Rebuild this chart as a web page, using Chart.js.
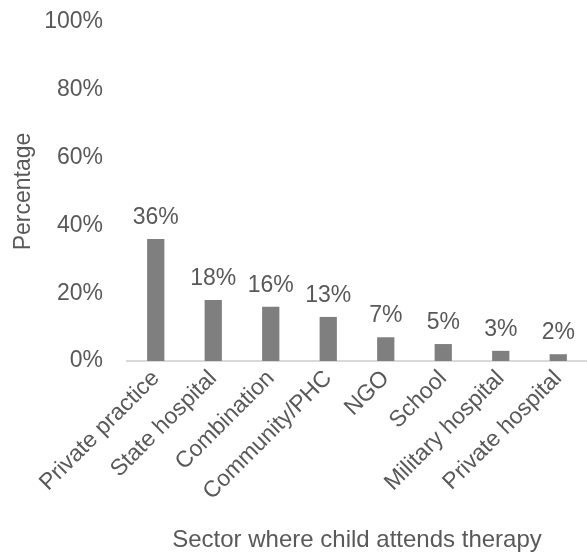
<!DOCTYPE html>
<html>
<head>
<meta charset="utf-8">
<script src="https://cdn.jsdelivr.net/npm/chart.js@4/dist/chart.umd.min.js"></script>
<style>
  html, body { margin: 0; padding: 0; background: #ffffff; }
  #wrap { width: 587px; height: 555px; }
</style>
</head>
<body>
<div id="wrap"><canvas id="chart" width="587" height="555"></canvas></div>
<script>
// Sectors where children attend therapy, share of respondents (%)
const sectors = [
  'Private practice', 'State hospital', 'Combination', 'Community/PHC',
  'NGO', 'School', 'Military hospital', 'Private hospital'
];
const percentages = [36, 18, 16, 13, 7, 5, 3, 2];
const yTicks = [0, 20, 40, 60, 80, 100];

const TEXT = '#595959';
const FONT = 'Liberation Sans, Arial, sans-serif';
const SIZE = 23;

// Writes the percentage above each bar
const valueLabels = {
  id: 'valueLabels',
  afterDatasetsDraw(chart) {
    const ctx = chart.ctx;
    const meta = chart.getDatasetMeta(0);
    ctx.save();
    ctx.font = SIZE + 'px ' + FONT;
    ctx.fillStyle = TEXT;
    ctx.textAlign = 'center';
    ctx.textBaseline = 'alphabetic';
    meta.data.forEach((bar, i) => {
      ctx.fillText(percentages[i] + '%', bar.x, bar.y - 15);
    });
    ctx.restore();
  }
};

new Chart(document.getElementById('chart'), {
  type: 'bar',
  data: {
    labels: sectors,
    datasets: [{
      data: percentages,
      backgroundColor: '#7f7f7f',
      borderWidth: 0,
      barPercentage: 0.3,
      categoryPercentage: 1.0
    }]
  },
  options: {
    responsive: false,
    animation: false,
    layout: { padding: { top: 22, right: 0, left: 0, bottom: 0 } },
    plugins: {
      legend: { display: false },
      tooltip: { enabled: false }
    },
    scales: {
      x: {
        grid: { display: false, drawTicks: false },
        border: { display: true, color: '#d9d9d9', width: 2 },
        ticks: {
          color: TEXT,
          font: { family: FONT, size: SIZE },
          minRotation: 45,
          maxRotation: 45,
          padding: 4,
          autoSkip: false
        },
        title: {
          display: true,
          text: 'Sector where child attends therapy',
          color: TEXT,
          font: { family: FONT, size: 24 },
          padding: { top: 4, bottom: 0 }
        },
        afterFit(scale) {
          scale.height = 194;
          scale.paddingLeft = 0;
          scale.paddingRight = 0;
        }
      },
      y: {
        min: 0,
        max: 100,
        afterBuildTicks(scale) { scale.ticks = yTicks.map(v => ({ value: v })); },
        grid: { display: false, drawTicks: false },
        border: { display: false },
        ticks: {
          color: TEXT,
          font: { family: FONT, size: SIZE },
          padding: 24,
          callback: v => v + '%'
        },
        title: {
          display: true,
          text: 'Percentage',
          color: TEXT,
          font: { family: FONT, size: SIZE },
          padding: { top: 10, bottom: 4 }
        },
        afterFit(scale) {
          scale.width = 127;
          scale.paddingTop = 0;
          scale.paddingBottom = 0;
        }
      }
    }
  },
  plugins: [valueLabels]
});
</script>
</body>
</html>
